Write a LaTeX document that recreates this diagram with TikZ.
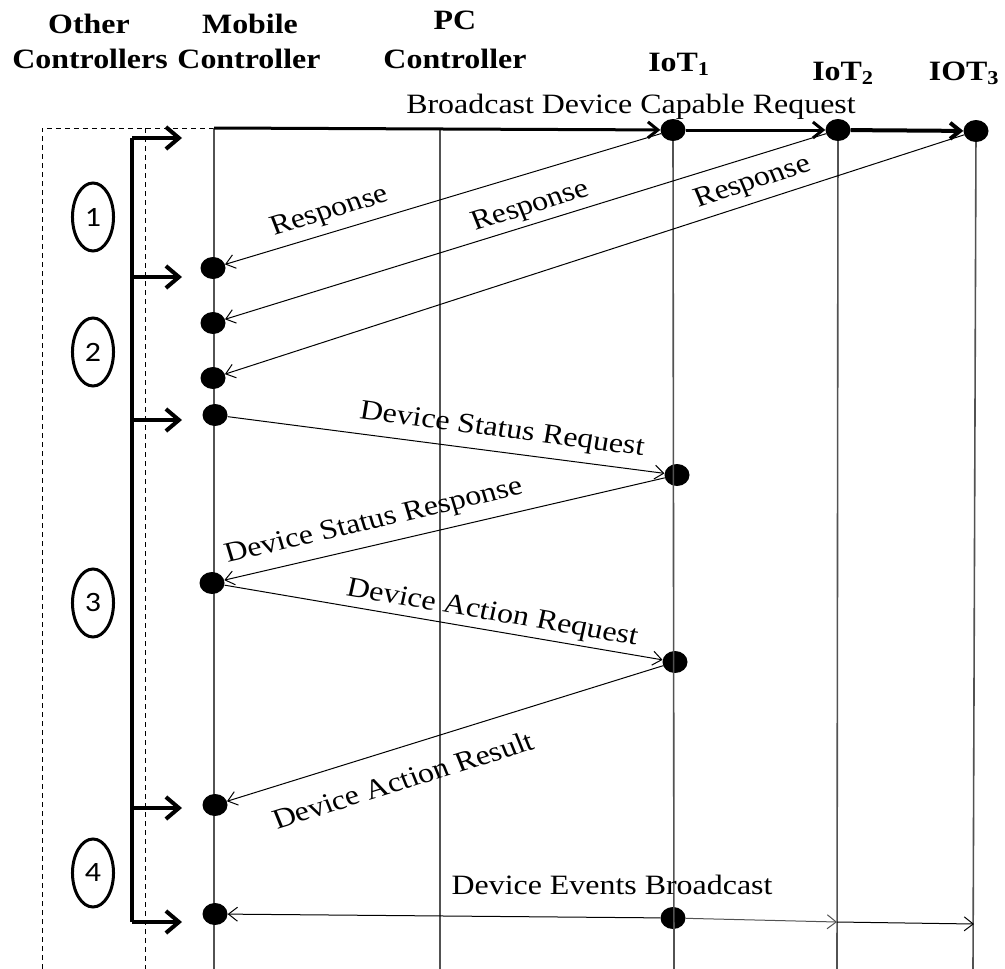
\documentclass[tikz,border=0pt]{standalone}
\usepackage{fontspec}
\setmainfont{Liberation Serif}
\newfontfamily\numfont{Carlito}
\usetikzlibrary{arrows.meta,shapes.geometric}

\begin{document}
\begin{tikzpicture}[x=1pt,y=-1pt]
\tikzset{
  lifeline/.style={draw=black!68, line width=1.6pt},
  dot/.style={ellipse, fill=black, minimum width=25pt, minimum height=22pt, inner sep=0pt},
  msg/.style={line width=1pt, -{Straight Barb[length=9pt,width=14pt]}},
  bcast/.style={line width=3pt, -{Straight Barb[length=10pt,width=16pt]}},
  wide/.style={inner sep=0pt, xscale=1.14},
  head/.style={wide, anchor=base, font=\fontsize{28}{32}\selectfont\bfseries},
  lbl/.style={wide, font=\fontsize{28}{32}\selectfont},
  phase/.style={wide, ellipse, draw, line width=3pt, minimum width=36pt, minimum height=68pt,
    font=\numfont\fontsize{28}{32}\selectfont},
  fence/.style={line width=1pt, dash pattern=on 5pt off 4pt},
  phasearrow/.style={line width=4pt, -{Straight Barb[length=13pt,width=22pt]}},
}
\useasboundingbox (0,0) rectangle (1005,969);

% column headers
\node[head] (hOther) at (89,33) {Other};
\node[head] (hOtherC) at (90,68) {Controllers};
\node[head] (hMob) at (250,33) {Mobile};
\node[head] (hMobC) at (249,68) {Controller};
\node[head] (hPC) at (455,30) {PC};
\node[head] (hPCC) at (455,68) {Controller};
\node[head] (hI1) at (679,71) {IoT\textsubscript{1}};
\node[head] (hI2) at (843,80) {IoT\textsubscript{2}};
\node[head] (hI3) at (964,80) {IOT\textsubscript{3}};

% lifeline ends
\coordinate (mTop) at (214,128);
\coordinate (mBot) at (214,969);
\coordinate (pTop) at (440,128);
\coordinate (pBot) at (440,969);
\coordinate (i1Bot) at (674,969);
\coordinate (i2Bot) at (837,969);
\coordinate (i3Bot) at (973,969);

% dashed frame of the other controllers
\coordinate (fTL) at (42,128);
\coordinate (fBL) at (42,969);
\coordinate (gT) at (145,128);
\coordinate (gB) at (145,969);
\draw[fence] (fBL) -- (fTL) -- (mTop);
\draw[fence] (gT) -- (gB);

% lifelines
\draw[lifeline] (mTop) -- (mBot);
\draw[lifeline] (pTop) -- (pBot);

% message dots
\node[dot] (i1) at (673,130) {};
\node[dot] (i2) at (838,130) {};
\node[dot] (i3) at (976,131) {};
\node[dot] (m1) at (213,268) {};
\node[dot] (m2) at (213,323) {};
\node[dot] (m3) at (213,378) {};
\node[dot] (m4) at (215,415) {};
\node[dot] (m5) at (212,583) {};
\node[dot] (m6) at (215,805) {};
\node[dot] (m7) at (215,914) {};
\node[dot] (k1) at (677,475) {};
\node[dot] (k2) at (675,662) {};
\node[dot] (k3) at (673,918) {};

\draw[lifeline] (i1) -- (i1Bot);
\draw[lifeline] (i2) -- (i2Bot);
\draw[lifeline] (i3) -- (i3Bot);

% capability broadcast
\draw[bcast] (mTop) -- (i1);
\draw[bcast] (i1) -- (i2);
\draw[bcast, line width=4pt] (i2) -- (i3);
\node[lbl, anchor=base] (lBc) at (631,113) {Broadcast Device Capable Request};

% responses
\draw[msg] (i1) -- (m1);
\draw[msg] (i2) -- (m2);
\draw[msg] (i3) -- (m3);
\node[lbl, rotate=18.9] (lR1) at (330,212) {Response};
\node[lbl, rotate=19.4] (lR2) at (531,207) {Response};
\node[lbl, rotate=20.3] (lR3) at (753,183) {Response};

% status and action exchange
\draw[msg] (m4) -- (k1);
\node[lbl, rotate=-8.4] (lSReq) at (502,431) {Device Status Request};
\draw[msg] (k1) -- (m5);
\node[lbl, rotate=14.8] (lSRes) at (374,522) {Device Status Response};
\draw[msg] (m5) -- (k2);
\node[lbl, rotate=-11] (lAReq) at (492,614) {Device Action Request};
\draw[msg] (k2) -- (m6);
\node[lbl, rotate=19.5] (lARes) at (403,780) {Device Action Result};

% event broadcast
\coordinate (e2) at (837,922);
\coordinate (e3) at (974,924);
\draw[msg] (k3) -- (m7);
\draw[msg, draw=black!68] (k3) -- (e2);
\draw[msg] (e2) -- (e3);
\node[lbl] (lEv) at (612,885) {Device Events Broadcast};

% phase bracket
\coordinate (b1) at (132,138);
\coordinate (b2) at (132,277);
\coordinate (b3) at (132,420);
\coordinate (b4) at (132,808);
\coordinate (b5) at (132,922);
\coordinate (t1) at (182,138);
\coordinate (t2) at (182,277);
\coordinate (t3) at (182,420);
\coordinate (t4) at (182,808);
\coordinate (t5) at (182,922);
\draw[line width=4pt] (b1) -- (b5);
\draw[phasearrow] (b1) -- (t1);
\draw[phasearrow] (b2) -- (t2);
\draw[phasearrow] (b3) -- (t3);
\draw[phasearrow] (b4) -- (t4);
\draw[phasearrow] (b5) -- (t5);

% phase numbers
\node[phase] (p1) at (93,217) {1};
\node[phase] (p2) at (93,352) {2};
\node[phase] (p3) at (93,603) {3};
\node[phase] (p4) at (93,873) {4};
\end{tikzpicture}
\end{document}
